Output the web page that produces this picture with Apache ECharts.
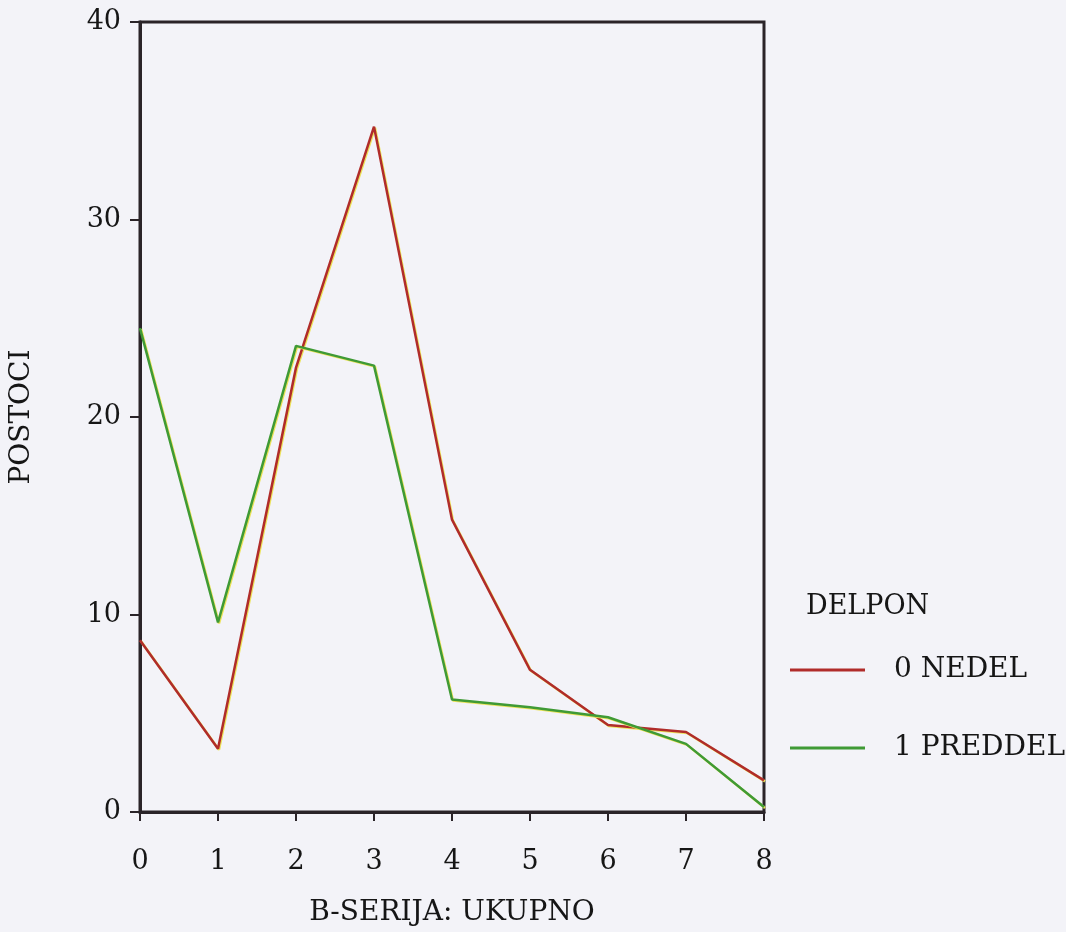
<!DOCTYPE html>
<html>
<head>
<meta charset="utf-8">
<script src="https://cdn.jsdelivr.net/npm/echarts@6/dist/echarts.min.js"></script>
<style>
html,body{margin:0;padding:0;background:#f3f3f8;}
#chart{width:1066px;height:932px;}
</style>
</head>
<body>
<div id="chart"></div>
<script>
const categories = ['0','1','2','3','4','5','6','7','8'];
const nedel = [8.7, 3.2, 22.5, 34.7, 14.8, 7.2, 4.4, 4.05, 1.6];
const preddel = [24.5, 9.6, 23.6, 22.6, 5.7, 5.3, 4.8, 3.45, 0.25];
const yTicks = [0, 10, 20, 30, 40];
const seriesNames = ['0 NEDEL', '1 PREDDEL'];
const legendTitle = 'DELPON';
const xName = 'B-SERIJA: UKUPNO';
const yName = 'POSTOCI';

const FONT = 'DejaVu Serif';
const TXT = '#161616';
const chart = echarts.init(document.getElementById('chart'));
const axisLine = {lineStyle:{color:'#2a2428', width:3}};
chart.setOption({
  backgroundColor:'#f3f3f8',
  animation:false,
  title:{text:legendTitle, left:801, top:588,
    textStyle:{fontFamily:FONT, fontWeight:'normal', fontSize:27, color:TXT}},
  legend:{orient:'vertical', left:785, top:649, itemWidth:75, itemHeight:3, itemGap:46,
    icon:'rect', data:seriesNames,
    textStyle:{fontFamily:FONT, fontSize:28, color:TXT, lineHeight:32, padding:[0,0,0,24]}},
  grid:{left:137, right:302, top:22, bottom:119, show:true, borderColor:'#2a2428', borderWidth:3, backgroundColor:'transparent'},
  xAxis:{type:'category', data:categories, boundaryGap:false,
    name:xName, nameLocation:'middle', nameGap:87,
    nameTextStyle:{fontFamily:FONT, fontSize:28, color:TXT},
    axisLine:axisLine,
    axisTick:{show:true, length:9, lineStyle:{color:'#2a2428', width:2}},
    axisLabel:{fontFamily:FONT, fontSize:27, color:TXT, margin:36},
    splitLine:{show:false}},
  yAxis:{type:'value', min:0, max:40, interval:10,
    name:yName, nameLocation:'middle', nameGap:104,
    nameTextStyle:{fontFamily:FONT, fontSize:28, color:TXT},
    axisLine:{show:true, lineStyle:{color:'#2a2428', width:3}},
    axisTick:{show:true, length:10, lineStyle:{color:'#2a2428', width:2}},
    axisLabel:{fontFamily:FONT, fontSize:27, color:TXT, margin:19,
      formatter:function(v){return yTicks.indexOf(v)>=0?String(v):'';}},
    splitLine:{show:false}},
  series:[
    {name:seriesNames[0], type:'line', data:nedel, symbol:'none', color:'#b02c2a',
      lineStyle:{width:2.5, color:'#b02c2a', shadowColor:'#ece35a', shadowOffsetX:1, shadowOffsetY:1, shadowBlur:0}},
    {name:seriesNames[1], type:'line', data:preddel, symbol:'none', color:'#3f9a35',
      lineStyle:{width:2.5, color:'#3f9a35', shadowColor:'#ece35a', shadowOffsetX:1, shadowOffsetY:1, shadowBlur:0}}
  ]
});
</script>
</body>
</html>
